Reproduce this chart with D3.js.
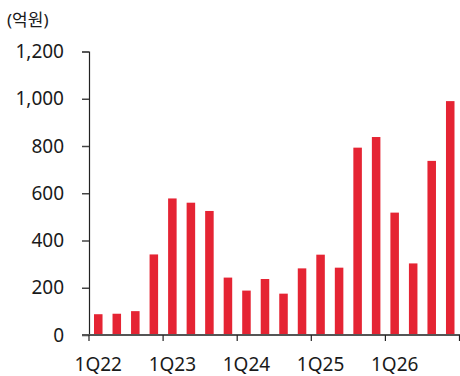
<!DOCTYPE html>
<html>
<head>
<meta charset="utf-8">
<script src="https://cdn.jsdelivr.net/npm/d3@7"></script>
<style>
  html, body { margin: 0; padding: 0; background: #fff; }
  svg { display: block; }
  text { font-family: "Noto Sans", "Noto Sans CJK KR", sans-serif; fill: #1a1a1a; }
</style>
</head>
<body>
<svg id="chart" width="460" height="376"></svg>
<script>
// Quarterly figures, 1Q22 – 4Q26 (unit: 억원)
const quarters = [
  "1Q22","2Q22","3Q22","4Q22",
  "1Q23","2Q23","3Q23","4Q23",
  "1Q24","2Q24","3Q24","4Q24",
  "1Q25","2Q25","3Q25","4Q25",
  "1Q26","2Q26","3Q26","4Q26"
];
const values = [
  88, 90, 101, 341,
  578, 560, 525, 243,
  188, 237, 175, 282,
  340, 285, 793, 838,
  518, 303, 737, 990
];
const yTicks = [0, 200, 400, 600, 800, 1000, 1200];
const xLabels = ["1Q22", "1Q23", "1Q24", "1Q25", "1Q26"];
const unitLabel = "(억원)";

const svg = d3.select("#chart");
const margin = { left: 89, right: 0.5, top: 51.5, bottom: 41 };
const W = 460, H = 376;

const x = d3.scaleBand()
  .domain(quarters)
  .range([margin.left, W - margin.right])
  .paddingInner(0.54)
  .paddingOuter(0.27);

const y = d3.scaleLinear()
  .domain([0, 1200])
  .range([H - margin.bottom, margin.top]);

// bars
svg.append("g")
  .selectAll("rect")
  .data(values)
  .join("rect")
  .attr("x", (d, i) => x(quarters[i]))
  .attr("width", x.bandwidth())
  .attr("y", d => y(d))
  .attr("height", d => y(0) - y(d))
  .attr("fill", "#e52433");

// y axis
const yAxis = svg.append("g")
  .attr("transform", `translate(${margin.left},0)`)
  .call(d3.axisLeft(y).tickValues(yTicks).tickSize(7).tickPadding(18)
    .tickFormat(d3.format(",")));
yAxis.select(".domain").attr("stroke", "#222").attr("stroke-width", 1.2);
yAxis.selectAll(".tick line").attr("stroke", "#444").attr("stroke-width", 1.5);
yAxis.selectAll("text").attr("font-size", 19).attr("fill", "#1a1a1a")
  .attr("font-family", "\"Noto Sans\", sans-serif");

// x axis: ticks mark year boundaries, labels sit under each first quarter
const [x0, x1] = x.range();
const quarterWidth = (x1 - x0) / quarters.length;
const yearStarts = d3.range(0, quarters.length + 1, 4);
const xg = svg.append("g");
xg.append("line")
  .attr("x1", margin.left - 7).attr("x2", W)
  .attr("y1", y(0)).attr("y2", y(0))
  .attr("stroke", "#555").attr("stroke-width", 2);
xg.selectAll("line.tick")
  .data(yearStarts)
  .join("line")
  .attr("class", "tick")
  .attr("x1", i => x0 + i * quarterWidth)
  .attr("x2", i => x0 + i * quarterWidth)
  .attr("y1", y(0)).attr("y2", y(0) + 6)
  .attr("stroke", "#222").attr("stroke-width", 1.2);
xg.selectAll("text")
  .data(xLabels)
  .join("text")
  .attr("x", d => x(d) + x.bandwidth() / 2)
  .attr("y", y(0) + 36)
  .attr("text-anchor", "middle")
  .attr("font-size", 19)
  .text(d => d);

// unit label
svg.append("text")
  .attr("x", 7)
  .attr("y", 26)
  .attr("font-size", 17)
  .attr("font-family", "\"Noto Sans CJK KR\", sans-serif")
  .text(unitLabel);
</script>
</body>
</html>
